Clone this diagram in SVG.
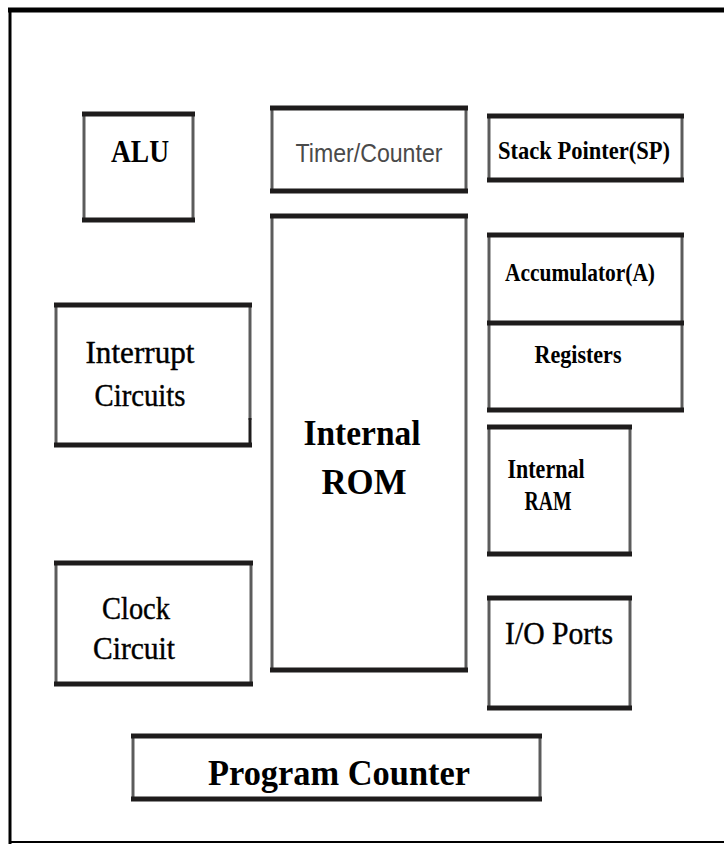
<svg xmlns="http://www.w3.org/2000/svg" width="724" height="844" viewBox="0 0 724 844">
<style>
.side{stroke:#5c5c5c;stroke-width:3;fill:none}
.bar{stroke:#1e1c1c;stroke-width:5;fill:none}
.frame{stroke:#000;fill:none}
.b{font-family:"Liberation Serif","Times New Roman",serif;font-weight:bold;fill:#000;text-anchor:middle}
.r{font-family:"Liberation Serif","Times New Roman",serif;font-weight:normal;fill:#000;stroke:#000;stroke-width:0.4;text-anchor:middle}
.s{font-family:"Liberation Sans",Arial,sans-serif;fill:#4a4a4a;text-anchor:middle}
</style>
<rect width="724" height="844" fill="#fff"/>
<g id="frame">
<line class="frame" x1="8" y1="10" x2="724" y2="10" stroke-width="5"/>
<line class="frame" x1="10" y1="8" x2="10" y2="844" stroke-width="3"/>
<line class="frame" x1="10" y1="842" x2="724" y2="842" stroke-width="2"/>
</g>
<g id="alu">
<line class="side" x1="84" y1="113" x2="84" y2="220"/>
<line class="side" x1="193" y1="113" x2="193" y2="220"/>
<line class="bar" x1="82" y1="114" x2="195" y2="114"/>
<line class="bar" x1="82" y1="220" x2="195" y2="220"/>
<text class="b" x="140" y="162" font-size="32" textLength="58" lengthAdjust="spacingAndGlyphs">ALU</text>
</g>
<g id="timer">
<line class="side" x1="272" y1="108" x2="272" y2="192"/>
<line class="side" x1="466" y1="108" x2="466" y2="192"/>
<line class="bar" x1="270" y1="108" x2="468" y2="108"/>
<line class="bar" x1="270" y1="191" x2="468" y2="191"/>
<text class="s" x="369" y="162" font-size="26" textLength="147" lengthAdjust="spacingAndGlyphs">Timer/Counter</text>
</g>
<g id="sp">
<line class="side" x1="489" y1="116" x2="489" y2="180"/>
<line class="side" x1="682" y1="116" x2="682" y2="180"/>
<line class="bar" x1="487" y1="116" x2="684" y2="116"/>
<line class="bar" x1="487" y1="180" x2="684" y2="180"/>
<text class="b" x="584" y="159" font-size="25" textLength="172" lengthAdjust="spacingAndGlyphs">Stack Pointer(SP)</text>
</g>
<g id="rom">
<line class="side" x1="272" y1="216" x2="272" y2="670"/>
<line class="side" x1="466" y1="216" x2="466" y2="670"/>
<line class="bar" x1="270" y1="216" x2="468" y2="216"/>
<line class="bar" x1="270" y1="670" x2="468" y2="670"/>
<text class="b" x="362" y="445" font-size="36" textLength="117" lengthAdjust="spacingAndGlyphs">Internal</text>
<text class="b" x="364" y="494" font-size="35" textLength="85" lengthAdjust="spacingAndGlyphs">ROM</text>
</g>
<g id="acc">
<line class="side" x1="489" y1="235" x2="489" y2="410"/>
<line class="side" x1="682" y1="235" x2="682" y2="410"/>
<line class="bar" x1="487" y1="235" x2="684" y2="235"/>
<line class="bar" x1="487" y1="323" x2="684" y2="323"/>
<line class="bar" x1="487" y1="410" x2="684" y2="410"/>
<text class="b" x="580" y="281" font-size="25" textLength="150" lengthAdjust="spacingAndGlyphs">Accumulator(A)</text>
<text class="b" x="578" y="363" font-size="25" textLength="87" lengthAdjust="spacingAndGlyphs">Registers</text>
</g>
<g id="interrupt">
<line class="side" x1="56" y1="304" x2="56" y2="445"/>
<line class="side" x1="250" y1="304" x2="250" y2="420"/>
<line stroke="#1e1c1c" stroke-width="3" x1="250" y1="418" x2="250" y2="446"/>
<line class="bar" x1="54" y1="305" x2="252" y2="305"/>
<line class="bar" x1="54" y1="445" x2="252" y2="445"/>
<text class="r" x="140" y="363" font-size="31" textLength="109" lengthAdjust="spacingAndGlyphs">Interrupt</text>
<text class="r" x="140" y="406" font-size="31" textLength="91" lengthAdjust="spacingAndGlyphs">Circuits</text>
</g>
<g id="ram">
<line class="side" x1="489" y1="427" x2="489" y2="554"/>
<line class="side" x1="630" y1="427" x2="630" y2="554"/>
<line class="bar" x1="487" y1="427" x2="632" y2="427"/>
<line class="bar" x1="487" y1="554" x2="632" y2="554"/>
<text class="b" x="546" y="478" font-size="27" textLength="77" lengthAdjust="spacingAndGlyphs">Internal</text>
<text class="b" x="548" y="510" font-size="27" textLength="47" lengthAdjust="spacingAndGlyphs">RAM</text>
</g>
<g id="clock">
<line class="side" x1="56" y1="563" x2="56" y2="684"/>
<line class="side" x1="251" y1="563" x2="251" y2="684"/>
<line class="bar" x1="54" y1="563" x2="253" y2="563"/>
<line class="bar" x1="54" y1="684" x2="253" y2="684"/>
<text class="r" x="136" y="619" font-size="31" textLength="68" lengthAdjust="spacingAndGlyphs">Clock</text>
<text class="r" x="134" y="659" font-size="31" textLength="82" lengthAdjust="spacingAndGlyphs">Circuit</text>
</g>
<g id="io">
<line class="side" x1="489" y1="598" x2="489" y2="708"/>
<line class="side" x1="630" y1="598" x2="630" y2="708"/>
<line class="bar" x1="487" y1="598" x2="632" y2="598"/>
<line class="bar" x1="487" y1="708" x2="632" y2="708"/>
<text class="r" x="559" y="644" font-size="31" textLength="108" lengthAdjust="spacingAndGlyphs">I/O Ports</text>
</g>
<g id="pc">
<line class="side" x1="133" y1="736" x2="133" y2="799"/>
<line class="side" x1="540" y1="736" x2="540" y2="799"/>
<line class="bar" x1="131" y1="736" x2="542" y2="736"/>
<line class="bar" x1="131" y1="799" x2="542" y2="799"/>
<text class="b" x="339" y="785" font-size="36" textLength="262" lengthAdjust="spacingAndGlyphs">Program Counter</text>
</g>
<g id="connectors"></g>
</svg>
